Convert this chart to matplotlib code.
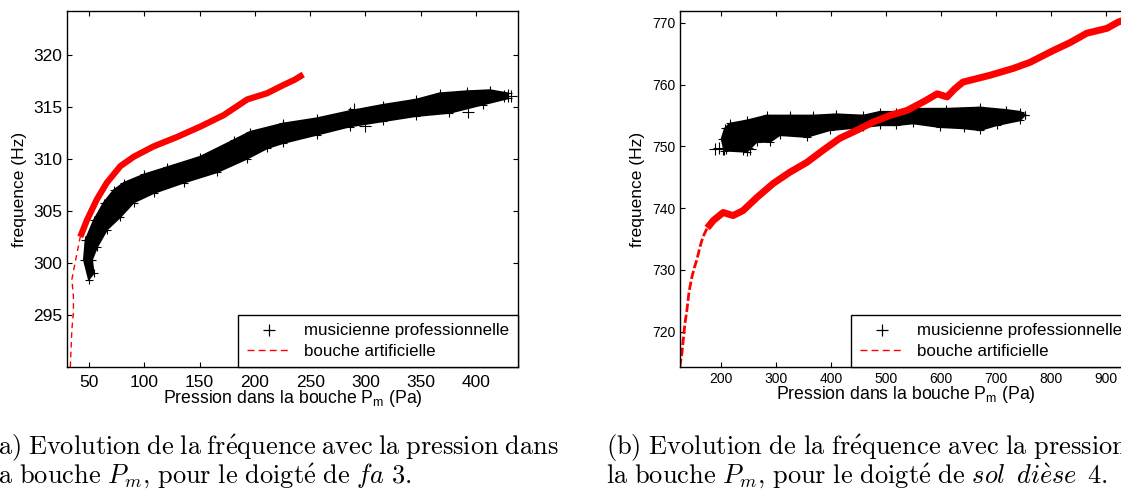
import numpy as np
import matplotlib
matplotlib.use("Agg")
import matplotlib.pyplot as plt
from matplotlib.lines import Line2D

plt.rcParams.update({
    "font.family": "Liberation Sans",
    "mathtext.fontset": "custom",
    "mathtext.rm": "Liberation Sans",
    "mathtext.it": "Liberation Sans:italic",
    "xtick.direction": "in",
    "ytick.direction": "in",
    "xtick.top": True,
    "ytick.right": True,
    "axes.linewidth": 1.0,
})

# === (a) doigté fa 3 ===
# musicienne professionnelle : bords haut/gauche et bas/droite du nuage de points
mus_a_top_p = [49.7, 45.2, 46.7, 54.2, 63.3, 72.3, 81.4, 99.5, 120.5, 150.4, 180.8, 195.6,
               225.4, 255.9, 286, 316, 346, 367, 391.5, 412.6, 429]
mus_a_top_f = [298.4, 300.3, 302.2, 304.1, 305.8, 307.0, 307.7, 308.5, 309.2, 310.2, 311.8, 312.6,
               313.4, 313.9, 314.6, 315.2, 315.7, 316.3, 316.5, 316.6, 316.3]
mus_a_bot_p = [54.2, 52.7, 57.2, 66.3, 78.3, 90.4, 108.5, 135.6, 165.7, 192.9, 211, 225.4,
               256, 286, 316, 346, 376, 406, 429]
mus_a_bot_f = [299.0, 300.3, 301.5, 303.2, 304.4, 305.8, 306.7, 307.7, 308.7, 310.0, 311.0, 311.5,
               312.3, 313.1, 313.6, 314.1, 314.4, 315.2, 315.8]
mus_a_out_p = [290, 300, 393, 425, 432]
mus_a_out_f = [314.8, 313.2, 314.5, 316.0, 316.0]

# bouche artificielle
red_a_tail_p = [33, 33.5, 34.4, 35.8, 35.8, 34.4, 37.3, 40.3, 42]
red_a_tail_f = [290.0, 291.3, 293.6, 295.2, 296.8, 298.4, 300.0, 301.6, 302.5]
red_a_p = [42, 48, 57, 66, 78.3, 90.4, 108.5, 129.6, 150.7, 171.8, 193, 211, 226, 236, 243.7]
red_a_f = [302.5, 304.1, 306.1, 307.7, 309.3, 310.2, 311.2, 312.1, 313.1, 314.2, 315.7, 316.3,
           317.1, 317.6, 318.1]

# === (b) doigté sol dièse 4 ===
mus_b_top_p = [201, 207, 216, 247, 283, 325, 368, 410, 459, 489, 519, 550, 610, 671, 719, 744, 753]
mus_b_top_f = [751.2, 752.9, 753.7, 754.2, 755.0, 755.0, 755.0, 755.2, 755.0, 755.6, 755.6,
               756.1, 756.1, 756.3, 755.9, 755.6, 755.1]
mus_b_bot_p = [206, 247, 265, 289, 307, 356, 398, 459, 489, 519, 549, 598, 641, 671, 701, 744, 753]
mus_b_bot_f = [749.3, 749.1, 750.7, 750.7, 751.8, 751.5, 752.6, 753.1, 753.4, 753.4, 753.7,
               753.1, 752.9, 752.6, 753.4, 754.2, 755.1]
mus_b_tail_p = [189, 196, 203, 210, 240, 247, 253]
mus_b_tail_f = [749.6, 749.7, 749.6, 749.7, 749.6, 749.7, 749.6]

red_b_tail_p = [125, 129, 131, 134, 138, 142, 147, 152, 156, 162, 167, 175]
red_b_tail_f = [714.3, 716.5, 718.3, 721.0, 723.5, 726.5, 728.8, 730.5, 731.6, 733.8, 735.3, 736.8]
red_b_p = [175, 186, 204, 222, 240, 265, 295, 325, 356, 386, 416, 447, 476, 507, 538, 570,
           593, 611, 625, 640, 689, 731, 762, 804, 835, 865, 902, 922, 935]
red_b_f = [736.8, 738.0, 739.3, 738.8, 739.6, 741.7, 744.0, 745.8, 747.4, 749.4, 751.3, 752.6,
           753.9, 755.0, 755.8, 757.3, 758.5, 758.0, 759.3, 760.4, 761.5, 762.6, 763.6, 765.5,
           766.8, 768.3, 769.1, 770.1, 770.5]

xlabel = "Pression dans la bouche P$_\\mathrm{m}$ (Pa)"
legend_labels = ["musicienne professionnelle", "bouche artificielle"]

W, H = 1121, 491
fig = plt.figure(figsize=(W / 100, H / 100), dpi=100)
ax_a = fig.add_axes([67 / W, (H - 367) / H, 451 / W, 356 / H])
ax_b = fig.add_axes([680 / W, (H - 367) / H, 451 / W, 356 / H])


def draw_cloud(ax, top_p, top_f, bot_p, bot_f):
    xs = np.concatenate([top_p, bot_p[::-1]])
    ys = np.concatenate([top_f, bot_f[::-1]])
    ax.fill(xs, ys, color="black", lw=1.2, zorder=2)
    ax.plot(top_p, top_f, "+", color="black", ms=6, mew=0.8, zorder=2)
    ax.plot(bot_p, bot_f, "+", color="black", ms=6, mew=0.8, zorder=2)


# (a)
draw_cloud(ax_a, mus_a_top_p, mus_a_top_f, mus_a_bot_p, mus_a_bot_f)
ax_a.plot(mus_a_out_p, mus_a_out_f, "+", color="black", ms=8, mew=0.8)
ax_a.plot(red_a_tail_p, red_a_tail_f, "--", color="red", lw=1.0, dashes=(4, 3))
ax_a.plot(red_a_p, red_a_f, "-", color="red", lw=4.5, solid_capstyle="butt", zorder=3)
ax_a.set_xlim(30, 438)
ax_a.set_ylim(290, 324.2)
ax_a.set_xticks([50, 100, 150, 200, 250, 300, 350, 400])
ax_a.set_yticks([295, 300, 305, 310, 315, 320])
ax_a.tick_params(labelsize=12.5, length=3.6, width=0.8)
ax_a.tick_params(axis="x", pad=5.5)

# (b)
draw_cloud(ax_b, mus_b_top_p, mus_b_top_f, mus_b_bot_p, mus_b_bot_f)
ax_b.plot(mus_b_tail_p, mus_b_tail_f, "+", color="black", ms=8, mew=0.8)
ax_b.plot(red_b_tail_p, red_b_tail_f, "--", color="red", lw=2.0, dashes=(3, 1))
ax_b.plot(red_b_p, red_b_f, "-", color="red", lw=5, solid_capstyle="butt", zorder=3)
ax_b.set_xlim(125.5, 945.5)
ax_b.set_ylim(714.3, 771.9)
ax_b.set_xticks([200, 300, 400, 500, 600, 700, 800, 900])
ax_b.set_yticks([720, 730, 740, 750, 760, 770])
ax_b.tick_params(labelsize=10, length=3.6, width=0.8, pad=3.5)

handles = [Line2D([], [], ls="none", marker="+", color="black", ms=8, mew=0.9),
           Line2D([], [], ls="--", color="red", lw=1.0, dashes=(5, 3))]
for ax, lp in ((ax_a, 4), (ax_b, 5)):
    ax.set_xlabel(xlabel, fontsize=12.7, labelpad=-1)
    ax.set_ylabel("frequence (Hz)", fontsize=12.5, labelpad=lp)
    leg = ax.legend(handles, legend_labels, loc="lower right", fontsize=12.2,
                    borderaxespad=0, fancybox=False, framealpha=1, edgecolor="black",
                    handlelength=2.6, handletextpad=0.8, borderpad=0.5, labelspacing=0.3)
    leg.get_frame().set_linewidth(1.0)

# légendes des sous-figures (première ligne justifiée : espaces resserrés pour (a))
cap = dict(fontsize=19, math_fontfamily="cm", ha="left", va="baseline")
captions = [
    (-12, r"$\mathrm{(a)\;Evolution\;de\;la\;fr\acute{e}quence\;avec\;la\;pression\;dans}$",
     r"$\mathrm{la\ bouche\ }P_m{,}\mathrm{\ pour\ le\ doigt\acute{e}\ de\ }\mathit{fa\ 3}\mathrm{.}$"),
    (606, r"$\mathrm{(b)\ Evolution\ de\ la\ fr\acute{e}quence\ avec\ la\ pression\ dans}$",
     r"$\mathrm{la\ bouche\ }P_m{,}\mathrm{\ pour\ le\ doigt\acute{e}\ de\ }"
     r"\mathit{sol\ \,di\grave{e}se\ \,4}\mathrm{.}$"),
]
for x0, l1, l2 in captions:
    fig.text(x0 / W, 1 - 455 / H, l1, **cap)
    fig.text(-9 / W if x0 < 0 else x0 / W, 1 - 483 / H, l2, **cap)

fig.savefig("out.png", dpi=100)
